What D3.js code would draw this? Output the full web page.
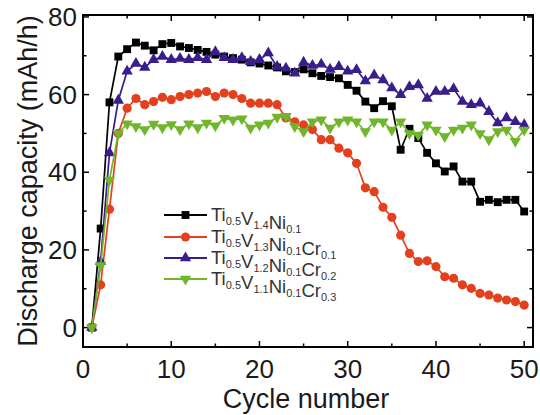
<!DOCTYPE html>
<html lang="en">
<head>
<meta charset="utf-8">
<title>Discharge capacity vs cycle number</title>
<script src="https://d3js.org/d3.v7.min.js"></script>
<style>
  body { margin: 0; background: #fff; }
  text { font-family: "Liberation Sans", Arial, sans-serif; }
</style>
</head>
<body>
<script>
// cycle numbers 1..50
var cycles = [1,2,3,4,5,6,7,8,9,10,11,12,13,14,15,16,17,18,19,20,21,22,23,24,25,
              26,27,28,29,30,31,32,33,34,35,36,37,38,39,40,41,42,43,44,45,46,47,48,49,50];

// Ti0.5V1.4Ni0.1
var capV14 = [0,25.5,58,69.8,71.7,73.4,72.6,71.4,73,73.3,72.4,72,71.5,71,70.3,69.8,69.4,69,68.3,68,
              67.5,67,66,65.8,66.5,65.5,64.8,64.5,64.2,62.5,61,58.2,56.5,58.3,57,45.8,51.2,48.8,45,42.3,
              40.2,41.5,37.6,37.6,32.4,32.9,32.3,32.9,32.9,29.9];
// Ti0.5V1.3Ni0.1Cr0.1
var capCr01 = [0,11,30.5,50,56.5,59,57.4,58.2,59.3,58.7,59.5,60,60.4,60.8,59.5,60.4,60,59,57.8,57.8,
               57.8,57.4,54,53,52.2,51,48.4,48.4,46.2,45,42.3,36,35,31,28.4,23.8,19.1,17,17.2,15.7,
               13.1,12.7,11,10.1,8.8,8.4,7.6,7.1,6.7,5.8];
// Ti0.5V1.2Ni0.1Cr0.2
var capCr02 = [0,17,45,58.5,66,68,67,69,69.8,69,69.3,69,69.5,69,71,69.5,69,69.5,68.5,69,
               70.7,67.2,66.8,65.5,68.3,67.5,67.8,66.5,67.2,66,66.4,63.5,65,63.8,61.7,60,62,62.5,59,60.8,
               60.8,61.5,58.2,57.4,57.8,55.6,52.7,54,53,52.2];
// Ti0.5V1.1Ni0.1Cr0.3
var capCr03 = [0,16,38,50,52.5,51.8,51,52.4,51.5,52.3,51,52.5,51.5,52.7,52,53.9,53.5,53.8,51.4,52.2,
               52.7,54.2,54.4,51.8,50.5,53,53.5,51.4,53,53.5,53,50.5,53,53,50.9,53,50,49.6,52.2,50.9,
               49.2,50.9,51.4,52.2,50,48.4,50.5,50.9,48,50.9];

var xTicks = [0,10,20,30,40,50];
var yTicks = [0,20,40,60,80];

// legend labels: [main, subscript] pairs
var legendLabels = [
  [["Ti","0.5"],["V","1.4"],["Ni","0.1"]],
  [["Ti","0.5"],["V","1.3"],["Ni","0.1"],["Cr","0.1"]],
  [["Ti","0.5"],["V","1.2"],["Ni","0.1"],["Cr","0.2"]],
  [["Ti","0.5"],["V","1.1"],["Ni","0.1"],["Cr","0.3"]]
];

var series = [
  {values: capV14, color: "#000000", shape: d3.symbolSquare, size: 62, rot: 0},
  {values: capCr01, color: "#e5401d", shape: d3.symbolCircle, size: 66, rot: 0},
  {values: capCr02, color: "#3a1d8c", shape: d3.symbolTriangle, size: 56, rot: 0},
  {values: capCr03, color: "#70b62c", shape: d3.symbolTriangle, size: 56, rot: 180}
];

var w = 540, h = 415;
var pL = 83, pR = 533, pT = 15, pB = 347;

var svg = d3.select("body").append("svg")
    .attr("width", w)
    .attr("height", h);

var x = d3.scaleLinear().domain([0, 51]).range([pL, pR]);
var y = d3.scaleLinear().domain([-5, 80.5]).range([pB, pT]);

// ticks, pointing inward, on all four sides
var g = svg.append("g").attr("stroke", "#000").attr("stroke-width", 1.5);
d3.range(0, 51, 5).forEach(function(v) {
  var len = v % 10 === 0 ? 6 : 3.5;
  g.append("line").attr("x1", x(v)).attr("x2", x(v)).attr("y1", pB).attr("y2", pB - len);
  g.append("line").attr("x1", x(v)).attr("x2", x(v)).attr("y1", pT).attr("y2", pT + len);
});
d3.range(0, 81, 10).forEach(function(v) {
  var len = v % 20 === 0 ? 6 : 3.5;
  g.append("line").attr("y1", y(v)).attr("y2", y(v)).attr("x1", pL).attr("x2", pL + len);
  g.append("line").attr("y1", y(v)).attr("y2", y(v)).attr("x1", pR).attr("x2", pR - len);
});

// tick labels
svg.selectAll("text.xt").data(xTicks).enter().append("text")
    .attr("class", "xt")
    .attr("x", function(d) { return x(d); })
    .attr("y", 378)
    .attr("text-anchor", "middle")
    .attr("font-size", 26)
    .attr("fill", "#1a1a1a")
    .text(function(d) { return d; });

svg.selectAll("text.yt").data(yTicks).enter().append("text")
    .attr("class", "yt")
    .attr("x", 77)
    .attr("y", function(d) { return y(d) + 9; })
    .attr("text-anchor", "end")
    .attr("font-size", 26)
    .attr("fill", "#1a1a1a")
    .text(function(d) { return d; });

// axis titles
svg.append("text")
    .attr("x", 306)
    .attr("y", 408)
    .attr("text-anchor", "middle")
    .attr("font-size", 27)
    .attr("fill", "#1a1a1a")
    .text("Cycle number");

svg.append("text")
    .attr("transform", "translate(37,181) rotate(-90)")
    .attr("text-anchor", "middle")
    .attr("font-size", 27)
    .attr("fill", "#1a1a1a")
    .text("Discharge capacity (mAh/h)");

// data lines and markers
var line = d3.line()
    .x(function(d, i) { return x(cycles[i]); })
    .y(function(d) { return y(d); });

series.forEach(function(s) {
  svg.append("path")
      .attr("d", line(s.values))
      .attr("fill", "none")
      .attr("stroke", s.color)
      .attr("stroke-width", 1.7);

  svg.append("g").selectAll("path")
      .data(s.values)
      .enter()
      .append("path")
      .attr("d", d3.symbol().type(s.shape).size(s.size))
      .attr("transform", function(d, i) {
        return "translate(" + x(cycles[i]) + "," + y(d) + ") rotate(" + s.rot + ")";
      })
      .attr("fill", s.color);
});

// frame
svg.append("rect")
    .attr("x", pL).attr("y", pT)
    .attr("width", pR - pL).attr("height", pB - pT)
    .attr("fill", "none")
    .attr("stroke", "#000")
    .attr("stroke-width", 2);

// legend
var legY = [215, 237, 258, 279];
series.forEach(function(s, i) {
  var lg = svg.append("g");
  lg.append("line")
      .attr("x1", 164).attr("x2", 207)
      .attr("y1", legY[i]).attr("y2", legY[i])
      .attr("stroke", s.color).attr("stroke-width", 2.2);
  lg.append("path")
      .attr("d", d3.symbol().type(s.shape).size(s.size))
      .attr("transform", "translate(185.5," + legY[i] + ") rotate(" + s.rot + ")")
      .attr("fill", s.color);
  var t = lg.append("text")
      .attr("x", 211)
      .attr("y", legY[i] + 6)
      .attr("font-size", 18.5)
      .attr("fill", "#333");
  legendLabels[i].forEach(function(p) {
    t.append("tspan").text(p[0]);
    t.append("tspan").attr("font-size", 11).attr("dy", 4).text(p[1]);
    t.append("tspan").attr("dy", -4).text("");
  });
});
</script>
</body>
</html>
